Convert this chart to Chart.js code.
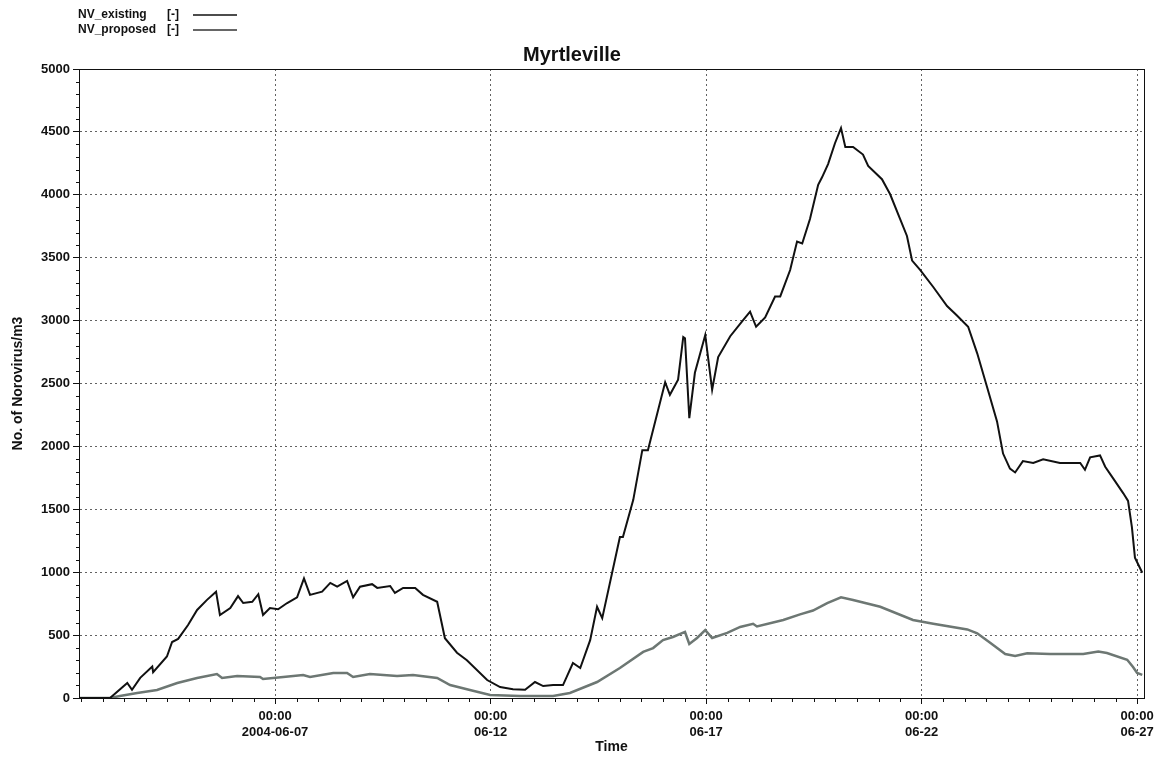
<!DOCTYPE html>
<html>
<head>
<meta charset="utf-8">
<title>Myrtleville</title>
<script src="https://cdn.jsdelivr.net/npm/chart.js@4.4.1/dist/chart.umd.min.js"></script>
<style>
  body { margin: 0; background: #fff; }
  canvas { display: block; }
</style>
</head>
<body>
<canvas id="grafica" width="1160" height="757"></canvas>
<script>
// Datos: x = dia de junio 2004 (7.0 = 06-07 00:00), y = No. de Norovirus/m3
const diasExistente = [2.45, 3.17, 3.57, 3.68, 3.87, 4.15, 4.17, 4.49, 4.61, 4.75, 4.98, 5.19, 5.42, 5.63, 5.72, 5.96,
  6.14, 6.26, 6.47, 6.61, 6.72, 6.88, 7.07, 7.28, 7.51, 7.67, 7.81, 8.09, 8.28, 8.44, 8.67, 8.81, 8.97, 9.25, 9.37,
  9.67, 9.78, 9.97, 10.25, 10.43, 10.76, 10.94, 11.22, 11.45, 11.92, 12.22, 12.52, 12.80, 13.03, 13.22, 13.45, 13.68,
  13.91, 14.08, 14.31, 14.47, 14.59, 15.00, 15.07, 15.31, 15.52, 15.65, 16.05, 16.16, 16.35, 16.47, 16.51, 16.61,
  16.74, 16.98, 17.14, 17.28, 17.56, 17.84, 18.02, 18.16, 18.37, 18.60, 18.72, 18.95, 19.11, 19.23, 19.41, 19.60,
  19.69, 19.83, 19.99, 20.13, 20.23, 20.41, 20.64, 20.76, 21.08, 21.27, 21.50, 21.66, 21.78, 21.97, 22.27, 22.59,
  22.82, 23.08, 23.29, 23.52, 23.75, 23.89, 24.05, 24.17, 24.35, 24.59, 24.82, 25.21, 25.68, 25.79, 25.91, 26.14,
  26.26, 26.44, 26.68, 26.79, 26.88, 26.95, 27.12];
const valoresExistente = [0, 0, 120, 65, 160, 250, 205, 330, 445, 470, 580, 700, 780, 845, 660, 715,
  810, 755, 765, 825, 660, 715, 705, 755, 800, 950, 820, 845, 915, 885, 930, 800, 885, 905, 875,
  890, 835, 875, 875, 820, 765, 475, 360, 300, 143, 87, 70, 65, 127, 95, 103, 103,
  278, 238, 460, 725, 635, 1280, 1280, 1575, 1970, 1970, 2510, 2410, 2530, 2870, 2860, 2225,
  2585, 2885, 2450, 2710, 2876, 2996, 3071, 2951, 3026, 3192, 3192, 3402, 3628, 3613, 3808, 4079,
  4139, 4244, 4410, 4530, 4380, 4380, 4320, 4229, 4124, 4004, 3808, 3673, 3477, 3402, 3267, 3116,
  3041, 2951, 2740, 2470, 2199, 1943, 1823, 1793, 1883, 1868, 1898, 1868, 1868, 1814, 1913, 1928,
  1838, 1748, 1627, 1567, 1357, 1116, 996];

const diasPropuesto = [2.45, 3.17, 3.40, 3.80, 4.26, 4.73, 5.19, 5.65, 5.77, 6.12, 6.65, 6.72, 7.19, 7.65, 7.81,
  8.35, 8.67, 8.81, 9.20, 9.83, 10.20, 10.76, 11.06, 11.52, 11.99, 12.68, 13.45, 13.84, 14.47, 15.00, 15.54,
  15.77, 16.00, 16.23, 16.51, 16.61, 16.79, 16.98, 17.14, 17.49, 17.79, 18.09, 18.18, 18.79, 19.18, 19.48,
  19.81, 20.13, 20.41, 21.04, 21.80, 22.27, 23.06, 23.29, 23.59, 23.94, 24.17, 24.45, 24.98, 25.75, 26.10,
  26.30, 26.77, 26.91, 27.00, 27.12];
const valoresPropuesto = [0, 0, 16, 40, 64, 119, 159, 191, 159, 175, 167, 151, 167, 183, 167,
  199, 199, 167, 191, 175, 183, 159, 103, 64, 24, 16, 16, 40, 127, 238, 366,
  397, 460, 485, 525, 430, 477, 540, 477, 517, 565, 590, 569, 620, 665, 695,
  755, 800, 779, 725, 620, 590, 545, 514, 439, 349, 334, 355, 349, 349, 370,
  358, 304, 244, 199, 184];

const etiquetas = ['NV_existing', 'NV_proposed'];
const unidades = ['[-]', '[-]'];

// Ticks del eje X
const tickDias = [7, 12, 17, 22, 27];
const tickHoras = ['00:00', '00:00', '00:00', '00:00', '00:00'];
const tickFechas = ['2004-06-07', '06-12', '06-17', '06-22', '06-27'];

const fuente = '"Liberation Sans", Arial, sans-serif';

function cargarPuntos(arrX, arrY) {
    let puntos = [];
    for (let i = 0; i < arrX.length; i++) {
        puntos.push({x: arrX[i], y: arrY[i]});
    }
    return puntos;
}

// Leyenda arriba a la izquierda: texto primero, linea despues
const leyenda = {
    id: 'leyenda',
    afterDraw(chart) {
        const ctx = chart.ctx;
        ctx.save();
        ctx.font = 'bold 12px ' + fuente;
        ctx.textBaseline = 'middle';
        chart.data.datasets.forEach((ds, i) => {
            const y = 15 + i * 15;
            ctx.fillStyle = '#111';
            ctx.fillText(ds.label, 78, y);
            ctx.fillText(unidades[i], 167, y);
            ctx.strokeStyle = i === 0 ? '#111' : '#333';
            ctx.lineWidth = 1.5;
            ctx.beginPath();
            ctx.moveTo(193, y);
            ctx.lineTo(237, y);
            ctx.stroke();
        });
        ctx.restore();
    }
};

// Marco del area y ticks menores
const marco = {
    id: 'marco',
    afterDraw(chart) {
        const ctx = chart.ctx;
        const a = chart.chartArea;
        const sx = chart.scales.x, sy = chart.scales.y;
        ctx.save();
        ctx.strokeStyle = '#111';
        ctx.lineWidth = 1;
        ctx.strokeRect(a.left + 0.5, a.top + 0.5, a.right - a.left, a.bottom - a.top);
        ctx.beginPath();
        for (let v = 100; v < sy.max; v += 100) {
            if (v % 500 === 0) continue;
            const y = Math.round(sy.getPixelForValue(v)) + 0.5;
            ctx.moveTo(a.left - 3, y);
            ctx.lineTo(a.left, y);
        }
        for (let d = Math.ceil(sx.min * 2) / 2; d <= sx.max; d += 0.5) {
            if (tickDias.includes(d)) continue;
            const x = Math.round(sx.getPixelForValue(d)) + 0.5;
            ctx.moveTo(x, a.bottom);
            ctx.lineTo(x, a.bottom + 4);
        }
        ctx.stroke();
        ctx.restore();
    }
};

let grafica = new Chart(document.getElementById('grafica'), {
    type: 'line',
    data: {
        datasets: [{
            label: etiquetas[0],
            data: cargarPuntos(diasExistente, valoresExistente),
            borderColor: '#111',
            borderWidth: 2,
            pointRadius: 0,
            tension: 0
        }, {
            label: etiquetas[1],
            data: cargarPuntos(diasPropuesto, valoresPropuesto),
            borderColor: '#6d7773',
            borderWidth: 2.5,
            pointRadius: 0,
            tension: 0
        }]
    },
    options: {
        responsive: false,
        animation: false,
        layout: { padding: { left: 0, right: 16, top: 0, bottom: 0 } },
        plugins: {
            legend: { display: false },
            tooltip: { enabled: false },
            title: {
                display: true,
                text: 'Myrtleville',
                color: '#111',
                font: { family: fuente, size: 20, weight: 'bold', lineHeight: 1.2 },
                padding: { top: 43, bottom: 2 }
            }
        },
        scales: {
            x: {
                type: 'linear',
                min: 2.45,
                max: 27.16,
                afterBuildTicks: (scale) => {
                    scale.ticks = tickDias.map(v => ({value: v}));
                },
                afterFit: (scale) => { scale.height = 59; },
                ticks: {
                    autoSkip: false,
                    maxRotation: 0,
                    padding: 5,
                    color: '#111',
                    font: { family: fuente, size: 13, weight: 'bold', lineHeight: 1.2 },
                    callback: (value) => {
                        const i = tickDias.indexOf(value);
                        return i < 0 ? '' : [tickHoras[i], tickFechas[i]];
                    }
                },
                grid: {
                    color: 'rgba(70,70,70,0.85)',
                    tickColor: '#111',
                    tickLength: 6,
                    lineWidth: 1
                },
                border: { display: true, color: '#111', dash: [2, 3] },
                title: {
                    display: true,
                    text: 'Time',
                    color: '#111',
                    font: { family: fuente, size: 14, weight: 'bold', lineHeight: 1.2 },
                    padding: { top: 0, bottom: 1 }
                }
            },
            y: {
                min: 0,
                max: 5000,
                afterFit: (scale) => { scale.width = 79; },
                ticks: {
                    stepSize: 500,
                    padding: 3,
                    color: '#111',
                    font: { family: fuente, size: 13, weight: 'bold' },
                    callback: (value) => String(value)
                },
                grid: {
                    color: 'rgba(70,70,70,0.85)',
                    tickColor: '#111',
                    tickLength: 6,
                    lineWidth: 1
                },
                border: { display: true, color: '#111', dash: [2, 3] },
                title: {
                    display: true,
                    text: 'No. of Norovirus/m3',
                    color: '#111',
                    font: { family: fuente, size: 14, weight: 'bold', lineHeight: 1.2 },
                    padding: { top: 10, bottom: 0 }
                }
            }
        }
    },
    plugins: [leyenda, marco]
});
</script>
</body>
</html>
